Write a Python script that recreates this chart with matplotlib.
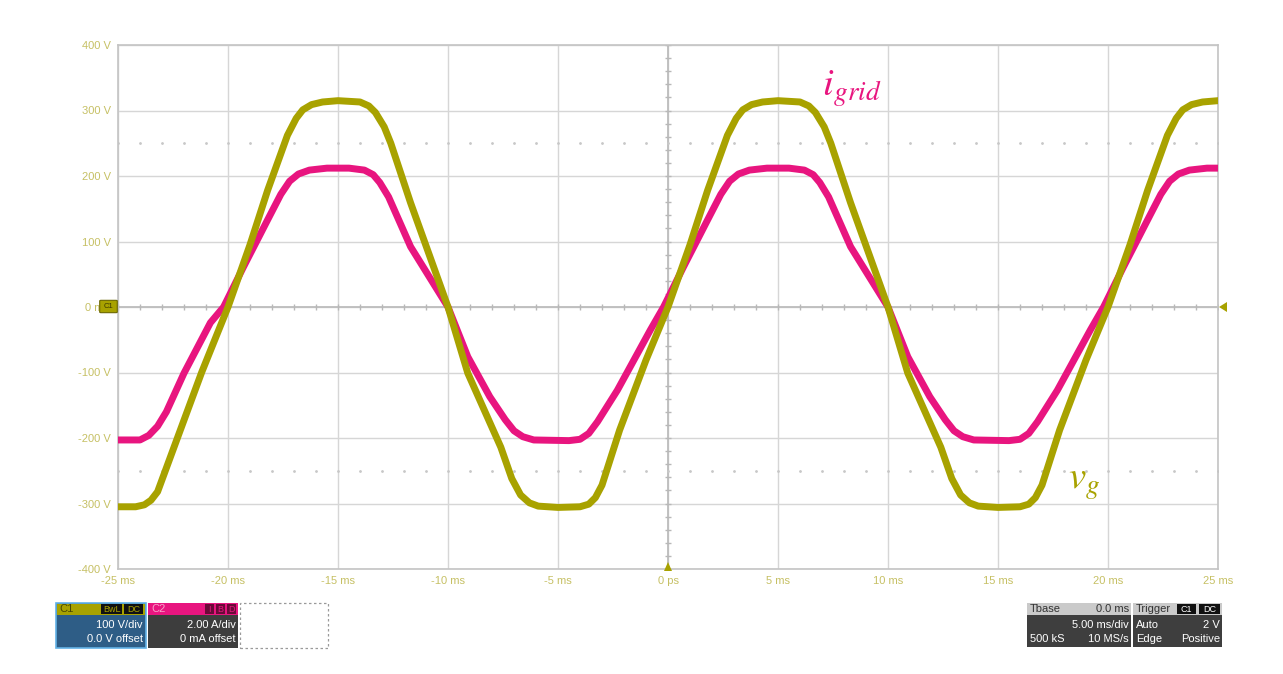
import matplotlib.pyplot as plt
import numpy as np
from matplotlib.patches import Rectangle, Polygon, FancyBboxPatch

# grid voltage v_g (time in ms, value in V)
vg_t = [-25.0, -24.2, -23.8, -23.5, -23.2, -22.3, -21.2, -20.0, -19.0, -18.2, -17.3, -16.9,
        -16.6, -16.2, -15.7, -15.0, -14.0, -13.6, -13.3, -12.9, -12.6, -11.7, -10.0, -9.1, -7.6,
        -7.1, -6.7, -6.3, -5.9, -5.0, -4.0, -3.6, -3.3, -3.0, -2.2, -1.0, 0.0, 1.0, 1.8, 2.7,
        3.1, 3.4, 3.8, 4.3, 5.0, 6.0, 6.4, 6.7, 7.1, 7.4, 8.3, 10.0, 10.9, 12.4, 12.9, 13.3,
        13.7, 14.1, 15.0, 16.0, 16.4, 16.7, 17.0, 17.8, 19.0, 20.0, 21.0, 21.8, 22.7, 23.1,
        23.4, 23.8, 24.3, 25.0]
vg_v = [-305, -305, -302, -295, -282, -200, -100, 0, 95, 178, 262, 288,
        301, 309, 313, 315, 313, 307, 297, 275, 250, 159, 0, -101, -214,
        -262, -287, -299, -304, -306, -305, -301, -291, -272, -188, -81, 0, 95, 178, 262,
        288, 301, 309, 313, 315, 313, 307, 297, 275, 250, 159, 0, -101, -214, -262, -287,
        -299, -304, -306, -305, -301, -291, -272, -188, -81, 0, 95, 178, 262, 288,
        301, 309, 313, 315]

# grid current i_grid, same screen scale (2 A/div shown as 100 V/div)
ig_t = [-25.0, -24.0, -23.6, -23.2, -22.8, -22.0, -20.8, -20.2, -19.3, -18.2, -17.6, -17.2,
        -16.8, -16.3, -15.5, -14.5, -13.8, -13.4, -13.1, -12.7, -11.7, -10.0, -9.1, -8.1, -7.4,
        -7.0, -6.6, -6.1, -4.5, -4.0, -3.6, -3.2, -2.3, -0.8, -0.2, 0.7, 1.8, 2.4, 2.8, 3.2,
        3.7, 4.5, 5.5, 6.2, 6.6, 6.9, 7.3, 8.3, 10.0, 10.9, 11.9, 12.6, 13.0, 13.4,
        13.9, 15.5, 16.0, 16.4, 16.8, 17.7, 19.2, 19.8, 20.7, 21.8, 22.4, 22.8, 23.2,
        23.7, 24.5, 25.0]
ig_v = [-203, -203, -196, -182, -160, -101, -24, 0, 61, 133, 172, 192,
        203, 209, 212, 212, 209, 202, 190, 168, 92, 0, -76, -137, -172,
        -189, -198, -203, -204, -202, -193, -175, -127, -35, 0, 61, 133, 172, 192, 203,
        209, 212, 212, 209, 202, 190, 168, 92, 0, -76, -137, -172, -189, -198,
        -203, -204, -202, -193, -175, -127, -35, 0, 61, 133, 172, 192, 203,
        209, 212, 212]

x_ticks = [-25, -20, -15, -10, -5, 0, 5, 10, 15, 20, 25]
x_labels = ['-25 ms', '-20 ms', '-15 ms', '-10 ms', '-5 ms', '0 ps',
            '5 ms', '10 ms', '15 ms', '20 ms', '25 ms']
y_ticks = [-400, -300, -200, -100, 0, 100, 200, 300, 400]
y_labels = ['-400 V', '-300 V', '-200 V', '-100 V', '0 mV',
            '100 V', '200 V', '300 V', '400 V']

W, H = 1283, 674
OLIVE = '#a8a200'
PINK = '#e8157f'
LABEL = '#c6c064'

plt.rcParams['font.family'] = ['Liberation Sans', 'DejaVu Sans']

fig = plt.figure(figsize=(W / 100, H / 100), dpi=100)
fig.patch.set_facecolor('white')


def fx(x):
    return x / W


def fy(y):
    return 1 - y / H


ax = fig.add_axes([fx(118), fy(569), 1100 / W, 524 / H])
ax.set_xlim(-25, 25)
ax.set_ylim(-400, 400)
ax.set_xticks(x_ticks)
ax.set_xticklabels(x_labels)
ax.set_yticks(y_ticks)
ax.set_yticklabels(y_labels)
ax.tick_params(length=0, labelsize=8, labelcolor=LABEL, pad=5)
ax.grid(True, color='#d6d6d6', lw=1)
ax.set_axisbelow(True)
for s in ax.spines.values():
    s.set_color('#c4c4c4')
    s.set_linewidth(1.2)

# crosshair with fine divisions
ax.axhline(0, color='#bdbdbd', lw=1.3, zorder=1)
ax.axvline(0, color='#bdbdbd', lw=1.3, zorder=1)
ax.plot(np.arange(-25, 25.5, 1), np.zeros(51), ls='none', marker='|',
        ms=4, mew=1, color='#b8b8b8', zorder=1)
ax.plot(np.zeros(41), np.arange(-400, 401, 20), ls='none', marker='_',
        ms=4, mew=1, color='#b8b8b8', zorder=1)
# dotted levels at +-250 V
for lvl in (250, -250):
    ax.plot(np.arange(-25, 25.5, 1), np.full(51, lvl), ls='none', marker='.',
            ms=2, color='#c8c8c8', zorder=1)

# traces
ax.plot(ig_t, ig_v, color=PINK, lw=5, solid_joinstyle='round', zorder=3)
ax.plot(vg_t, vg_v, color=OLIVE, lw=5, solid_joinstyle='round', zorder=4)

ax.text(7.0, 322, r'$\mathbf{\mathit{i}}_{\mathbf{\mathit{grid}}}$', color=PINK,
        fontsize=28, math_fontfamily='stix', zorder=5)
ax.text(18.2, -278, r'$\mathbf{\mathit{v}}_{\mathbf{\mathit{g}}}$', color=OLIVE,
        fontsize=28, math_fontfamily='stix', zorder=5)

# channel / trigger markers
fig.patches.append(FancyBboxPatch((fx(101), fy(312)), fx(15), 11 / H,
                                  boxstyle='round,pad=0.001', fc=OLIVE, ec='#6b6700',
                                  lw=0.8, transform=fig.transFigure))
fig.text(fx(108.5), fy(306.5), 'C1', fontsize=5.5, color='#3b3900',
         ha='center', va='center')
fig.patches.append(Polygon([[fx(664), fy(571)], [fx(672), fy(571)], [fx(668), fy(562)]],
                           closed=True, fc=OLIVE, ec='none', transform=fig.transFigure))
fig.patches.append(Polygon([[fx(1227), fy(302)], [fx(1227), fy(312)], [fx(1219), fy(307)]],
                           closed=True, fc=OLIVE, ec='none', transform=fig.transFigure))


def box(x0, x1, y0, y1, fc, ec='none', lw=0, ls='-'):
    fig.patches.append(Rectangle((fx(x0), fy(y1)), fx(x1 - x0), (y1 - y0) / H,
                                 fc=fc, ec=ec, lw=lw, ls=ls, transform=fig.transFigure))


def txt(x, y, s, color='white', ha='left', size=8):
    fig.text(fx(x), fy(y), s, color=color, ha=ha, va='center', fontsize=size)


def badge(x0, x1, s, fc='#111111', color=OLIVE):
    box(x0, x1, 604, 614, fc)
    txt((x0 + x1) / 2, 609, s, color=color, ha='center', size=6.5)


# C1 info box
box(56, 146, 603, 648, '#2e5d86', ec='#62b2e6', lw=1.2)
box(57, 145, 604, 615, OLIVE)
txt(59, 609.5, 'C1', color='#4a4700')
badge(101, 122, 'BwL')
badge(124, 143, 'DC')
txt(143, 625, '100 V/div', ha='right')
txt(143, 639, '0.0 V offset', ha='right')

# C2 info box
box(148, 238, 603, 648, '#3d3d3d')
box(148, 238, 603, 615, PINK)
txt(151, 609.5, 'C2', color='#f6a0c8')
badge(205, 214, 'I', fc='#6a0a38', color=PINK)
badge(216, 225, 'B', fc='#6a0a38', color=PINK)
badge(227, 236, 'D', fc='#6a0a38', color=PINK)
txt(236, 625, '2.00 A/div', ha='right')
txt(236, 639, '0 mA offset', ha='right')

# empty slot
box(240, 328, 603, 648, 'none', ec='#9a9a9a', lw=0.9, ls=(0, (2, 2)))

# timebase box
box(1027, 1131, 603, 647, '#3e3e3e')
box(1027, 1131, 603, 615, '#cacaca')
txt(1030, 609.5, 'Tbase', color='#333333')
txt(1129, 609.5, '0.0 ms', color='#333333', ha='right')
txt(1129, 625, '5.00 ms/div', ha='right')
txt(1030, 639, '500 kS')
txt(1129, 639, '10 MS/s', ha='right')

# trigger box
box(1133, 1222, 603, 647, '#3e3e3e')
box(1133, 1222, 603, 615, '#cacaca')
txt(1136, 609.5, 'Trigger', color='#333333')
badge(1177, 1196, 'C1', fc='#111111', color='white')
badge(1199, 1220, 'DC', fc='#111111', color='white')
txt(1136, 625, 'Auto')
txt(1220, 625, '2 V', ha='right')
txt(1136, 639, 'Edge')
txt(1220, 639, 'Positive', ha='right')

fig.savefig('out.png', dpi=100)
